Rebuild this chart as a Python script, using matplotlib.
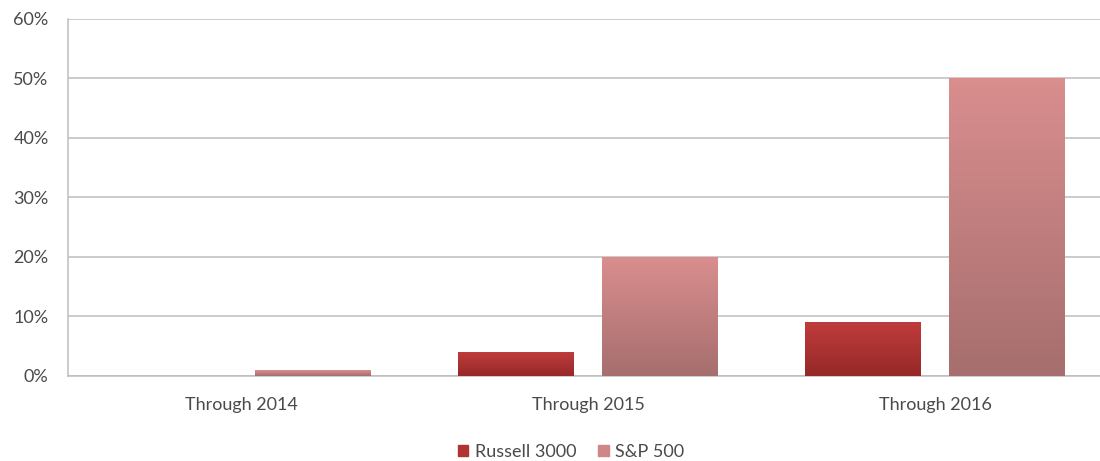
import matplotlib
matplotlib.use("Agg")
import matplotlib.pyplot as plt
import numpy as np
from matplotlib.colors import LinearSegmentedColormap
from matplotlib.patches import Patch

categories = ["Through 2014", "Through 2015", "Through 2016"]
russell = [0.0, 4.0, 9.0]
sp500 = [1.0, 20.0, 50.0]
yticks = [0, 10, 20, 30, 40, 50, 60]
ytick_labels = ["0%", "10%", "20%", "30%", "40%", "50%", "60%"]

plt.rcParams['font.family'] = ['Lato', 'DejaVu Sans']
text_color = "#4a4a4a"
fs = 13

fig = plt.figure(figsize=(11, 4.61), dpi=100)
ax = fig.add_axes([0.0618, 0.1844, 0.9382, 0.7744])

x = np.arange(len(categories))
w = 0.334
off = 0.2075

r_cmap = LinearSegmentedColormap.from_list("r", ["#962828", "#C03C3C"])
s_cmap = LinearSegmentedColormap.from_list("s", ["#A66E6E", "#DA8E8E"])

bars_r = ax.bar(x - off, russell, w, color="#B03434", zorder=3, linewidth=0)
bars_s = ax.bar(x + off, sp500, w, color="#D08686", zorder=3, linewidth=0)

grad = np.linspace(0, 1, 256).reshape(-1, 1)
for bars, cmap in ((bars_r, r_cmap), (bars_s, s_cmap)):
    for b in bars:
        h = b.get_height()
        if h <= 0:
            continue
        x0 = b.get_x()
        im = ax.imshow(grad, cmap=cmap, origin="lower", aspect="auto",
                       extent=[x0, x0 + b.get_width(), 0, h], zorder=4)
        im.set_clip_path(b)

ax.set_xlim(-0.4986, 2.475)
ax.set_ylim(0, 60)
ax.set_yticks(yticks)
ax.set_yticklabels(ytick_labels)
ax.set_xticks(x)
ax.set_xticklabels(categories)
ax.tick_params(axis="both", length=0, colors=text_color, labelsize=fs)
ax.tick_params(axis="x", pad=15)
ax.tick_params(axis="y", pad=14)
ax.yaxis.grid(True, color="#BDBDBD", linewidth=1.1, zorder=0)
ax.set_axisbelow(True)
for s in ("top", "right"):
    ax.spines[s].set_visible(False)
ax.spines["left"].set_color("#BDBDBD")
ax.spines["bottom"].set_color("#BDBDBD")
ax.spines["left"].set_linewidth(1.1)
ax.spines["bottom"].set_linewidth(1.1)

handles = [Patch(color="#B03434", label="Russell 3000"),
           Patch(color="#D08686", label="S&P 500")]
leg = fig.legend(handles=handles, loc="center", bbox_to_anchor=(0.519, 0.02),
                 ncol=2, frameon=False, fontsize=fs, handlelength=0.6,
                 handleheight=0.6, handletextpad=0.35, columnspacing=1.2)
for t in leg.get_texts():
    t.set_color(text_color)

fig.savefig("out.png", dpi=100)
